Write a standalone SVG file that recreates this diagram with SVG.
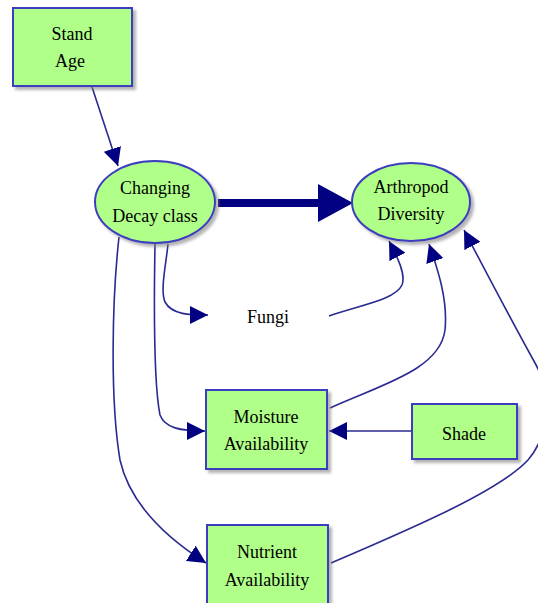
<svg xmlns="http://www.w3.org/2000/svg" width="538" height="603" viewBox="0 0 538 603">
<defs>
<filter id="sh" x="-10%" y="-10%" width="130%" height="130%">
<feDropShadow dx="3" dy="3" stdDeviation="1.5" flood-color="#808080" flood-opacity="0.6"/>
</filter>
<marker id="ah" viewBox="0 0 10 10" refX="10" refY="5" markerWidth="18" markerHeight="18" markerUnits="userSpaceOnUse" orient="auto">
<path d="M0,0 L10,5 L0,10 Z" fill="#000080"/>
</marker>
</defs>
<style>
.node { fill: #b0ff88; stroke: #3c3cc0; stroke-width: 2; filter: url(#sh); }
.t { font-family: "Liberation Serif", "Times New Roman", serif; font-size: 18px; fill: #000; text-anchor: middle; }
.c { fill: none; stroke: #2a2a90; stroke-width: 1.6; marker-end: url(#ah); }
</style>
<rect width="538" height="603" fill="#fff"/>
<g id="connectors">
<path class="c" d="M92,87 L118,166"/>
<path d="M218,203 L320,203" stroke="#000080" stroke-width="8" fill="none"/>
<path d="M318,184 L353,203 L318,222 Z" fill="#000080"/>
<path class="c" d="M168,244 C166,265 160,290 165,302 C172,315 190,315 208,315"/>
<path class="c" d="M329,316 C360,305 395,300 402,285 C406,275 398,258 389,241"/>
<path class="c" d="M330,408 C380,385 440,370 445,330 C448,300 438,270 429,244"/>
<path class="c" d="M331,563 C420,525 500,490 528,460 C552,432 550,390 535,363 C510,318 485,270 464,230"/>
<path class="c" d="M412,431 L329,431"/>
<path class="c" d="M155,244 C154,300 153,380 160,415 C165,428 180,431 205,431"/>
<path class="c" d="M119,237 C112,300 110,400 120,460 C130,505 170,540 206,563"/>
</g>
<g id="stand-age">
<rect class="node" x="13" y="8" width="119" height="78"/>
<text class="t" x="72" y="40">Stand</text>
<text class="t" x="70" y="67">Age</text>
</g>
<g id="changing-decay">
<ellipse class="node" cx="155" cy="202" rx="60" ry="41"/>
<text class="t" x="155" y="194">Changing</text>
<text class="t" x="155" y="222">Decay class</text>
</g>
<g id="arthropod">
<ellipse class="node" cx="411" cy="202" rx="59" ry="39"/>
<text class="t" x="411" y="193">Arthropod</text>
<text class="t" x="411" y="220">Diversity</text>
</g>
<g id="fungi">
<text class="t" x="268" y="323">Fungi</text>
</g>
<g id="moisture">
<rect class="node" x="206" y="390" width="121" height="79"/>
<text class="t" x="266" y="423">Moisture</text>
<text class="t" x="266" y="450">Availability</text>
</g>
<g id="shade">
<rect class="node" x="412" y="404" width="105" height="55"/>
<text class="t" x="464" y="440">Shade</text>
</g>
<g id="nutrient">
<rect class="node" x="207" y="525" width="121" height="85"/>
<text class="t" x="267" y="558">Nutrient</text>
<text class="t" x="267" y="586">Availability</text>
</g>
</svg>
